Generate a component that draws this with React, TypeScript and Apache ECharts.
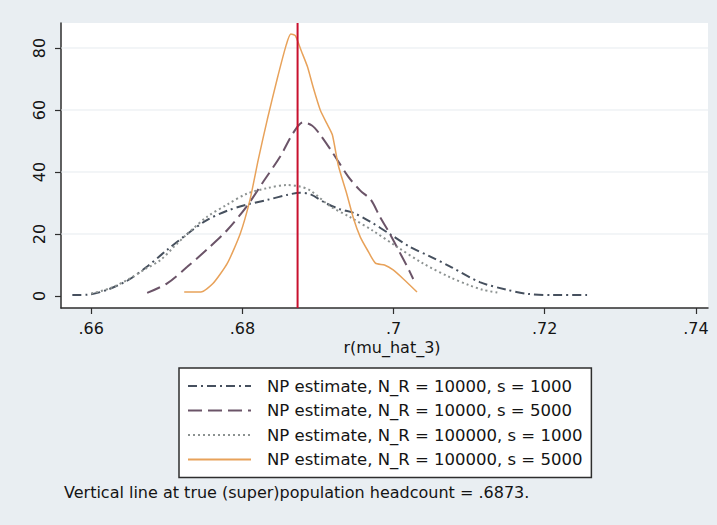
import React, { useEffect, useRef } from "react";
import * as echarts from "echarts";

// Kernel density estimates of r(mu_hat_3): [x, density]
const npR10kS1k: [number, number][] = [
  [0.6575, 0.3], [0.6595, 0.4], [0.6621, 2], [0.6648, 5], [0.6674, 9.5],
  [0.67, 14.8], [0.6727, 20], [0.6753, 24.5], [0.678, 27.5], [0.6806, 29.5],
  [0.6833, 31], [0.6859, 32.6], [0.6876, 33.3], [0.689, 32.8], [0.691, 30],
  [0.6929, 28], [0.6947, 26.8], [0.6969, 24], [0.6995, 20], [0.7022, 15.8],
  [0.7048, 12.8], [0.7075, 9.5], [0.7114, 4.5], [0.715, 2], [0.7177, 0.7],
  [0.7211, 0.3], [0.7256, 0.3],
];
const npR10kS5k: [number, number][] = [
  [0.6674, 1], [0.67, 4], [0.6727, 9.4], [0.6753, 15], [0.678, 21.3],
  [0.6806, 29], [0.6828, 37], [0.685, 45], [0.6867, 52.5], [0.688, 56],
  [0.6892, 55], [0.6903, 52], [0.692, 46], [0.694, 38.5], [0.6956, 34],
  [0.697, 31], [0.6982, 25.5], [0.6993, 21], [0.7005, 15.5], [0.7018, 9.5],
  [0.7026, 5.5],
];
const npR100kS1k: [number, number][] = [
  [0.66, 0.8], [0.6625, 2.5], [0.665, 5.5], [0.667, 8.5], [0.6691, 11.5],
  [0.671, 16], [0.6727, 20], [0.6753, 25.5], [0.678, 29.5], [0.6806, 33],
  [0.6833, 34.8], [0.6859, 35.8], [0.6876, 35.3], [0.689, 34], [0.6916, 29],
  [0.6942, 25.5], [0.6973, 21], [0.7005, 15.8], [0.7039, 10.5], [0.7075, 6],
  [0.71, 3.5], [0.7118, 2], [0.714, 1],
];
const npR100kS5k: [number, number][] = [
  [0.6723, 1.3], [0.6745, 1.3], [0.6761, 4], [0.678, 10.5], [0.6797, 20],
  [0.681, 31], [0.6821, 44], [0.6833, 57], [0.6846, 70], [0.6858, 81],
  [0.6864, 84.5], [0.687, 84], [0.6878, 79], [0.6886, 74], [0.6894, 67],
  [0.6903, 60], [0.6912, 55.5], [0.6919, 52], [0.6927, 42], [0.6938, 33],
  [0.6947, 25], [0.6956, 19], [0.6965, 15], [0.6976, 10.6], [0.6988, 10],
  [0.6999, 8.5], [0.7013, 5.5], [0.7031, 1.3],
];

const seriesNames = [
  "NP estimate, N_R = 10000, s = 1000",
  "NP estimate, N_R = 10000, s = 5000",
  "NP estimate, N_R = 100000, s = 1000",
  "NP estimate, N_R = 100000, s = 5000",
];

const xTicks = [0.66, 0.68, 0.7, 0.72, 0.74];
const yTicks = [0, 20, 40, 60, 80];
const gridValues = [20, 40, 60, 80];
const trueHeadcount = 0.6873;

const X_MIN = 0.656;
const X_MAX = 0.7416;
const Y_MIN = -3.87;
const Y_MAX = 88.06;

const axisTitle = "r(mu_hat_3)";
const note = "Vertical line at true (super)population headcount = .6873.";

const FONT = "DejaVu Sans";
const TEXT = "#141414";
const AXIS = "#2e2e2e";

export default function App() {
  const ref = useRef<HTMLDivElement>(null);

  useEffect(() => {
    if (!ref.current) return;
    const chart = echarts.init(ref.current, undefined, { renderer: "svg" });

    const densitySeries = (
      name: string,
      data: [number, number][],
      color: string,
      type: any,
      width: number,
      smooth: number
    ) => ({
      name,
      type: "line",
      data,
      symbol: "none",
      smooth,
      lineStyle: { color, type, width },
      itemStyle: { color },
      z: 3,
    });

    // faint horizontal guides at the labelled densities
    const guideSeries = gridValues.map((v) => ({
      name: `guide-${v}`,
      type: "line",
      data: [
        [X_MIN, v],
        [X_MAX, v],
      ],
      symbol: "none",
      silent: true,
      lineStyle: { color: "#e6ebef", width: 1 },
      z: 1,
    }));

    chart.setOption({
      animation: false,
      backgroundColor: "#e9eef2",
      grid: {
        left: 61,
        top: 23,
        width: 647,
        height: 285,
        show: true,
        backgroundColor: "#ffffff",
        borderWidth: 0,
      },
      xAxis: {
        type: "value",
        min: X_MIN,
        max: X_MAX,
        axisLine: { show: true, onZero: false, lineStyle: { color: AXIS, width: 1.5 } },
        axisTick: {
          show: true,
          customValues: xTicks,
          length: 6,
          lineStyle: { color: AXIS, width: 1.2 },
        },
        axisLabel: {
          customValues: xTicks,
          margin: 12,
          color: TEXT,
          fontFamily: FONT,
          fontSize: 16,
          formatter: (v: number) => String(+v.toFixed(2)).replace(/^0/, ""),
        },
        splitLine: { show: false },
      },
      yAxis: {
        type: "value",
        min: Y_MIN,
        max: Y_MAX,
        axisLine: { show: true, onZero: false, lineStyle: { color: AXIS, width: 1.5 } },
        axisTick: {
          show: true,
          customValues: yTicks,
          length: 6,
          lineStyle: { color: AXIS, width: 1.2 },
        },
        axisLabel: {
          customValues: yTicks,
          rotate: 90,
          margin: 14,
          color: TEXT,
          fontFamily: FONT,
          fontSize: 16,
        },
        splitLine: { show: false },
      },
      legend: {
        data: seriesNames,
        orient: "vertical",
        left: 179,
        top: 368,
        itemWidth: 63,
        itemHeight: 14,
        itemGap: 6.5,
        padding: [9, 9, 9, 8],
        backgroundColor: "#ffffff",
        borderColor: AXIS,
        borderWidth: 1.5,
        borderRadius: 0,
        selectedMode: false,
        itemStyle: { opacity: 0 },
        textStyle: {
          color: TEXT,
          fontFamily: FONT,
          fontSize: 16.5,
          lineHeight: 18,
          padding: [0, 0, 0, 11],
        },
      },
      graphic: [
        {
          type: "text",
          x: 392,
          y: 347,
          style: {
            text: axisTitle,
            font: `16px "${FONT}"`,
            fill: TEXT,
            align: "center",
            verticalAlign: "middle",
          },
        },
        {
          type: "text",
          x: 64,
          y: 492,
          style: {
            text: note,
            font: `16px "${FONT}"`,
            fill: TEXT,
            align: "left",
            verticalAlign: "middle",
          },
        },
      ],
      series: [
        ...guideSeries,
        densitySeries(seriesNames[0], npR10kS1k, "#46505e", [9, 4, 2, 4], 2, 0.3),
        densitySeries(seriesNames[1], npR10kS5k, "#6b5468", [14, 6], 2, 0.3),
        densitySeries(seriesNames[2], npR100kS1k, "#8c9291", [2, 3], 2, 0.3),
        densitySeries(seriesNames[3], npR100kS5k, "#e8a25a", "solid", 1.5, 0.2),
        {
          name: "true headcount",
          type: "line",
          data: [
            [trueHeadcount, Y_MIN],
            [trueHeadcount, Y_MAX],
          ],
          symbol: "none",
          silent: true,
          lineStyle: { color: "#c8102e", width: 2 },
          z: 5,
        },
      ],
    });

    return () => chart.dispose();
  }, []);

  return (
    <div
      ref={ref}
      style={{ position: "fixed", left: 0, top: 0, width: 717, height: 525 }}
    />
  );
}
